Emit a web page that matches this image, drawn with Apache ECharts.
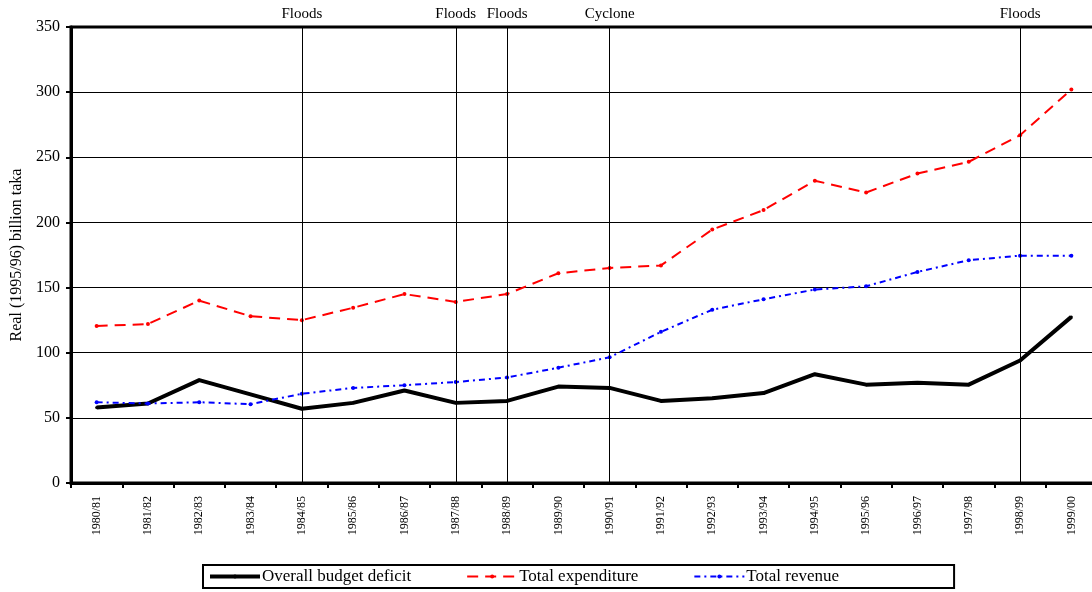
<!DOCTYPE html>
<html>
<head>
<meta charset="utf-8">
<script src="https://cdn.jsdelivr.net/npm/echarts@6/dist/echarts.min.js"></script>
<style>html,body{margin:0;padding:0;background:#fff;}#c{width:1092px;height:592px;}</style>
</head>
<body>
<div id="c"></div>
<script>
const categories = ['1980/81','1981/82','1982/83','1983/84','1984/85','1985/86','1986/87','1987/88','1988/89','1989/90','1990/91','1991/92','1992/93','1993/94','1994/95','1995/96','1996/97','1997/98','1998/99','1999/00'];
const deficit = [58, 61, 79, 68, 57, 61.5, 71, 61.5, 63, 74, 73, 63, 65, 69, 83.5, 75.5, 77, 75.5, 94, 127.5];
const expenditure = [120.5, 122, 140, 128, 125, 134.5, 145, 139, 145, 161, 165, 167, 194.5, 209.5, 232, 223, 237.5, 246.5, 267, 302];
const revenue = [62, 61, 62, 60.5, 68.5, 73, 75, 77.5, 81, 88.5, 96.5, 116, 133, 141, 148.5, 151, 162, 171, 174.5, 174.5];
const eventCategories = ['1984/85','1987/88','1988/89','1990/91','1998/99'];
const eventLabels = ['Floods','Floods','Floods','Cyclone','Floods'];
const yTicks = [0, 50, 100, 150, 200, 250, 300, 350];

const serif = '"Liberation Serif", "DejaVu Serif", serif';
const chart = echarts.init(document.getElementById('c'), null, {renderer: 'canvas'});
chart.setOption({
  animation: false,
  backgroundColor: '#fff',
  grid: {left: 71, width: 1026, top: 27, bottom: 109, outerBoundsMode: 'none', containLabel: false,
         show: true, borderColor: '#000', borderWidth: 3, backgroundColor: 'transparent'},
  xAxis: {
    type: 'category', data: categories, boundaryGap: true,
    axisLine: {lineStyle: {color: '#000', width: 3}},
    axisTick: {show: true, length: 5, lineStyle: {color: '#000', width: 2}},
    axisLabel: {rotate: 90, margin: 13, color: '#000', fontFamily: serif, fontSize: 12},
    splitLine: {show: false}
  },
  yAxis: {
    type: 'value', min: yTicks[0], max: yTicks[yTicks.length - 1], interval: 50,
    name: 'Real (1995/96) billion taka', nameLocation: 'middle', nameGap: 46,
    nameTextStyle: {color: '#000', fontFamily: serif, fontSize: 16},
    axisLine: {show: true, lineStyle: {color: '#000', width: 3}},
    axisTick: {show: true, length: 5, lineStyle: {color: '#000', width: 2}},
    axisLabel: {margin: 11, color: '#000', fontFamily: serif, fontSize: 16},
    splitLine: {show: true, lineStyle: {color: '#000', width: 1}}
  },
  legend: {
    left: 203, top: 565,
    padding: [3, 115, 3, 5],
    borderColor: '#000', borderWidth: 2,
    itemWidth: 50, itemHeight: 5, itemGap: 55,
    textStyle: {color: '#000', fontFamily: serif, fontSize: 17, padding: [0, 0, 0, -3]},
    data: [
      {name: 'Overall budget deficit', lineStyle: {width: 4, color: '#000'}},
      {name: 'Total expenditure', lineStyle: {width: 2, color: '#ff0000', type: [11, 7]}},
      {name: 'Total revenue', lineStyle: {width: 2, color: '#0000ff', type: [6, 4, 2, 4]}}
    ]
  },
  series: [
    {
      name: 'Overall budget deficit', type: 'line', data: deficit,
      symbol: 'circle', symbolSize: 3, color: '#000',
      lineStyle: {color: '#000', width: 4},
      itemStyle: {color: '#000'},
      z: 3,
      markLine: {
        silent: true, symbol: ['none', 'none'],
        lineStyle: {color: '#000', width: 1, type: 'solid'},
        label: {show: true, position: 'end', distance: 5, color: '#000', fontFamily: serif, fontSize: 15, formatter: p => p.name},
        data: eventCategories.map((c, i) => ({xAxis: c, name: eventLabels[i]}))
      }
    },
    {
      name: 'Total expenditure', type: 'line', data: expenditure,
      symbol: 'circle', symbolSize: 4, color: '#ff0000',
      lineStyle: {color: '#ff0000', width: 2, type: [11, 7]},
      itemStyle: {color: '#ff0000'},
      z: 4
    },
    {
      name: 'Total revenue', type: 'line', data: revenue,
      symbol: 'circle', symbolSize: 4, color: '#0000ff',
      lineStyle: {color: '#0000ff', width: 2, type: [6, 4, 2, 4]},
      itemStyle: {color: '#0000ff'},
      z: 4
    }
  ]
});
</script>
</body>
</html>
